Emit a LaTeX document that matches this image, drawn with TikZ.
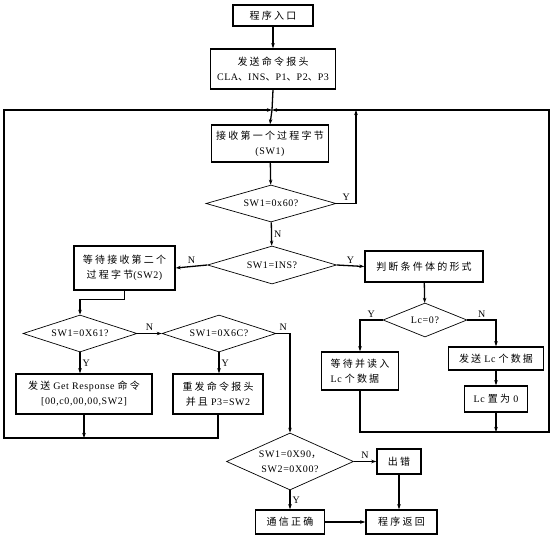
\documentclass[tikz,border=0pt]{standalone}
\usepackage{fontspec}
\setmainfont{Liberation Serif}[LetterSpace=6]
\newfontfamily\zhfont{Noto Sans CJK SC}[LetterSpace=22]
\newcommand\cn[1]{{\zhfont #1}}
\usetikzlibrary{shapes.geometric,arrows.meta}

\tikzset{
  box/.style={draw, line width=1.5pt, align=center, inner sep=0pt},
  cond/.style={draw, diamond, line width=0.7pt, align=center, inner sep=0pt},
  arr/.style={line width=1.3pt, -{Stealth[length=5pt,width=3.5pt]}},
  wire/.style={line width=1.3pt},
  yn/.style={font=\fontsize{10}{12}\selectfont, inner sep=2pt}
}

\begin{document}
\begin{tikzpicture}[x=1pt, y=-1pt, font=\fontsize{10}{15}\selectfont]
  \useasboundingbox (0,0) rectangle (551,537);

  % main column
  \node[box, minimum width=80, minimum height=21] (start) at (273,15.5) {\cn{程序入口}};
  \node[box, minimum width=125, minimum height=40] (send) at (273,69) {\cn{发送命令报头}\\CLA\cn{、}INS\cn{、}P1\cn{、}P2\cn{、}P3};
  \node[box, minimum width=117, minimum height=37] (recv1) at (270,143.5) {\cn{接收第一个过程字节}\\(SW1)};
  \node[cond, aspect=3.5, minimum width=130, minimum height=37] (d60) at (271,203.5) {SW1=0x60?};
  \node[cond, aspect=3.5, minimum width=129, minimum height=38] (dins) at (272,265) {SW1=INS?};

  % left branch
  \node[box, minimum width=101, minimum height=44] (recv2) at (124.5,268) {\cn{等待接收第二个}\\\cn{过程字节}(SW2)};
  \node[cond, aspect=3.5, minimum width=114, minimum height=37] (d61) at (80,333.5) {SW1=0X61?};
  \node[cond, aspect=3.5, minimum width=114, minimum height=37] (d6c) at (219,333.5) {SW1=0X6C?};
  \node[box, minimum width=136, minimum height=40] (getresp) at (84,394) {\cn{发送} Get Response \cn{命令}\\{}[00,c0,00,00,SW2]};
  \node[box, minimum width=90, minimum height=40] (resend) at (218,394) {\cn{重发命令报头}\\\cn{并且} P3=SW2};

  % right branch
  \node[box, minimum width=118, minimum height=31] (judge) at (424,266.5) {\cn{判断条件体的形式}};
  \node[cond, aspect=3, minimum width=84, minimum height=34] (dlc) at (425,320) {Lc=0?};
  \node[box, minimum width=77, minimum height=38, align=left] (waitread) at (360,371) {\cn{等待并读入}\\Lc \cn{个数据}};
  \node[box, minimum width=95, minimum height=23] (sendlc) at (496,358.5) {\cn{发送} Lc \cn{个数据}};
  \node[box, minimum width=63, minimum height=26] (lczero) at (496,399) {Lc \cn{置为} 0};

  % end
  \node[cond, aspect=2.2, minimum width=127, minimum height=57] (d90) at (290,461.5) {SW1=0X90\cn{，}\\SW2=0X00?};
  \node[box, minimum width=44, minimum height=25] (err) at (399,461.5) {\cn{出错}};
  \node[box, minimum width=69, minimum height=24] (ok) at (290,522) {\cn{通信正确}};
  \node[box, minimum width=71, minimum height=24] (ret) at (401.5,522) {\cn{程序返回}};

  \coordinate (top) at (272,110);
  \coordinate (yup) at (356,110);
  \coordinate (lb) at (4,438);
  \coordinate (rb) at (549,432);

  \draw[arr] (start) -- (send);
  \draw[wire] (send.south) -- (top);
  \draw[arr] (top) -- (recv1.north);
  \draw[arr] (recv1) -- (d60);
  \draw[arr] (d60.east) -| node[yn, above, pos=0.25] {Y} (yup);
  \draw[arr] (d60) -- node[yn, right] {N} (dins);
  \draw[arr] (dins.west) -- node[yn, above] {N} (recv2.east);
  \draw[arr] (dins.east) -- node[yn, above] {Y} (judge.west);

  \draw[arr] (recv2.south) -- ++(0,9) -| (d61.north);
  \draw[arr] (d61.east) -- node[yn, above] {N} (d6c.west);
  \draw[arr] (d61.south) -- node[yn, right] {Y} (d61.south |- getresp.north);
  \draw[arr] (d6c.south) -- node[yn, right] {Y} (d6c.south |- resend.north);
  \draw[arr] (d6c.east) -| node[yn, above, pos=0.25] {N} (d90.north);
  \draw[arr] (getresp.south) -- (getresp.south |- lb);
  \draw[arr] (resend.south) |- (lb) |- (top);

  \draw[arr] (judge) -- (dlc);
  \draw[arr] (dlc.west) -| node[yn, above, pos=0.25] {Y} (waitread.north);
  \draw[arr] (dlc.east) -| node[yn, above, pos=0.25] {N} (sendlc.north);
  \draw[arr] (sendlc) -- (lczero);
  \draw[arr] (lczero.south) -- (lczero.south |- rb);
  \draw[arr] (waitread.south) |- (rb) |- (top);

  \draw[arr] (d90.east) -- node[yn, above] {N} (err.west);
  \draw[arr] (d90.south) -- node[yn, right] {Y} (ok.north);
  \draw[arr] (err.south) -- (err.south |- ret.north);
  \draw[arr] (ok) -- (ret);
\end{tikzpicture}
\end{document}
